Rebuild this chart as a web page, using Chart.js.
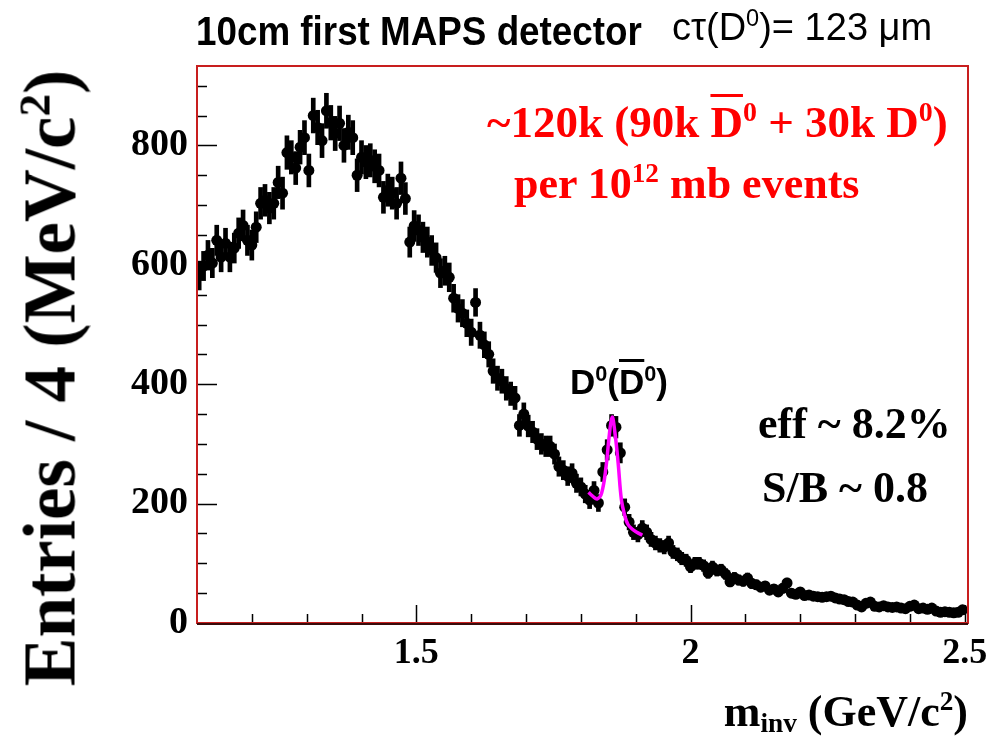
<!DOCTYPE html>
<html>
<head>
<meta charset="utf-8">
<script src="https://cdn.jsdelivr.net/npm/chart.js@4.4.1/dist/chart.umd.min.js"></script>
<style>
  body { margin: 0; background: #fff; }
  #wrap { position: relative; width: 988px; height: 743px; }
  .lbl { position: absolute; white-space: nowrap; line-height: 1; }
  .serif { font-family: "Liberation Serif", "DejaVu Serif", serif; font-weight: bold; }
  .sans { font-family: "Liberation Sans", Arial, sans-serif; }
  sup, sub { font-size: 0.62em; line-height: 0; }
  sub { vertical-align: -0.22em; }
  .ov { text-decoration: overline; text-decoration-thickness: 3px; }
</style>
</head>
<body>
<div id="wrap">
  <canvas id="massChart" width="988" height="743"></canvas>

  <div class="lbl sans" style="left:196px; top:11px; font-size:40px; font-weight:bold; transform:scaleX(0.92); transform-origin:left top;">10cm first MAPS detector</div>
  <div class="lbl sans" style="left:672px; top:8px; font-size:38px;">cτ(D<sup>0</sup>)= 123 μm</div>

  <div class="lbl serif" style="left:487px; top:100px; font-size:45px; color:#ff0000;">~120k (90k <span class="ov">D</span><sup>0</sup> + 30k D<sup>0</sup>)</div>
  <div class="lbl serif" style="left:514px; top:162px; font-size:44px; color:#ff0000;">per 10<sup>12</sup> mb events</div>

  <div class="lbl sans" style="left:570px; top:364px; font-size:35px; font-weight:bold;">D<sup>0</sup>(<span class="ov">D</span><sup>0</sup>)</div>
  <div class="lbl serif" style="left:758px; top:402px; font-size:44px;">eff ~ 8.2%</div>
  <div class="lbl serif" style="left:762px; top:466px; font-size:44px;">S/B ~ 0.8</div>

  <div class="lbl serif" style="right:20px; top:690px; font-size:44px;">m<sub>inv</sub> (GeV/c<sup>2</sup>)</div>
  <div class="lbl serif" style="left:50px; top:378px; font-size:73px; transform:translate(-50%,-50%) rotate(-90deg);">Entries / 4 (MeV/c<sup>2</sup>)</div>
</div>

<script>
// invariant mass histogram, bin width 8 MeV starting at 1.100 GeV
const binStart = 1.1;
const binWidth = 0.008;
const counts = [
  582, 598, 616, 603, 641, 613, 636, 613, 628, 653,
  666, 641, 633, 663, 703, 708, 695, 703, 738, 720,
  788, 780, 762, 797, 813, 758, 850, 830, 808, 858,
  838, 820, 837, 800, 822, 813, 750, 780, 772, 775,
  765, 758, 713, 725, 720, 703, 745, 711, 638, 665,
  658, 646, 638, 624, 612, 586, 590, 579, 544, 527,
  519, 502, 487, 537, 482, 466, 450, 422, 410, 405,
  393, 384, 377, 331, 350, 330, 320, 308, 300, 296,
  296, 283, 262, 256, 246, 251, 234, 228, 216, 206,
  222, 201, 253, 290, 331, 328, 285, 194, 169, 152,
  148, 159, 152, 140, 134, 130, 127, 134, 119, 115,
  108, 105, 94, 100, 100, 96, 84, 94, 88, 89,
  82, 69, 76, 72, 70, 75, 66, 64, 60, 62,
  55, 57, 52, 58, 67, 50, 48, 52, 46, 47,
  45, 44, 43, 44, 45, 42, 40, 39, 36, 35,
  30, 27, 33, 35, 28, 27, 29, 27, 26, 27,
  25, 24, 28, 30, 24, 25, 23, 25, 20, 18,
  19, 18, 17, 18, 22
];

// gaussian + background fit drawn around the D0 peak
const fitMass = [1.814, 1.822, 1.830, 1.838, 1.846, 1.852, 1.857, 1.862, 1.868, 1.874, 1.880, 1.886, 1.894, 1.902, 1.912];
const fitValue = [219, 212, 208, 218, 262, 316, 345, 320, 268, 206, 180, 165, 157, 152, 147];

const yTicks = [0, 200, 400, 600, 800];
const xTicks = [1.5, 2, 2.5];

const binCenters = counts.map((_, i) => binStart + binWidth * (i + 0.5));
const points = counts.map((c, i) => ({ x: binCenters[i], y: c }));
// poisson error bars
const errorBars = counts.map((c, i) => ({ x: binCenters[i], y: [c - Math.sqrt(c), c + Math.sqrt(c)] }));
const fitPoints = fitMass.map((m, i) => ({ x: m, y: fitValue[i] }));

const serifFamily = '"Liberation Serif", "DejaVu Serif", serif';

// ROOT-style frame with ticks on the inside
const rootFrame = {
  id: 'rootFrame',
  afterDatasetsDraw(chart) {
    const { ctx, chartArea: area, scales } = chart;
    ctx.save();
    ctx.strokeStyle = '#000';
    ctx.lineWidth = 1.5;
    ctx.beginPath();
    for (let v = 0; v <= 900; v += 50) {
      const y = Math.round(scales.y.getPixelForValue(v)) + 0.5;
      const len = v % 200 === 0 ? 20 : 10;
      ctx.moveTo(area.left, y);
      ctx.lineTo(area.left + len, y);
    }
    for (let v = 1.2; v <= 2.5001; v += 0.1) {
      const x = Math.round(scales.x.getPixelForValue(v)) + 0.5;
      const major = Math.abs(v * 2 - Math.round(v * 2)) < 1e-6;
      ctx.moveTo(x, area.bottom);
      ctx.lineTo(x, area.bottom - (major ? 18 : 9));
    }
    ctx.stroke();

    ctx.lineWidth = 2;
    ctx.strokeStyle = '#c81e1e';
    ctx.strokeRect(area.left, area.top, area.right - area.left, area.bottom - area.top);
    ctx.strokeStyle = '#3a0c0c';
    ctx.beginPath();
    ctx.moveTo(area.left, area.bottom + 1);
    ctx.lineTo(area.right, area.bottom + 1);
    ctx.stroke();
    ctx.restore();
  }
};

new Chart(document.getElementById('massChart'), {
  type: 'scatter',
  data: {
    datasets: [
      {
        type: 'line',
        data: fitPoints,
        borderColor: '#ff00ff',
        borderWidth: 3.5,
        pointRadius: 0,
        tension: 0.4,
        fill: false,
        order: 0
      },
      {
        type: 'scatter',
        data: points,
        backgroundColor: '#000',
        borderColor: '#000',
        pointRadius: 5.5,
        pointBorderWidth: 0,
        order: 1
      },
      {
        type: 'bar',
        data: errorBars,
        backgroundColor: '#000',
        barThickness: 4,
        grouped: false,
        order: 2
      }
    ]
  },
  options: {
    responsive: false,
    animation: false,
    layout: { padding: { left: 0, top: 66, right: 20, bottom: 0 } },
    plugins: { legend: { display: false }, tooltip: { enabled: false } },
    scales: {
      x: {
        type: 'linear',
        min: 1.1,
        max: 2.506,
        offset: false,
        grid: { display: false, drawTicks: false, offset: false },
        border: { display: false },
        afterFit: (scale) => {
          scale.height = 120;
          scale.paddingLeft = 0;
          scale.paddingRight = 0;
        },
        afterBuildTicks: (scale) => { scale.ticks = xTicks.map(v => ({ value: v })); },
        ticks: {
          font: { family: serifFamily, size: 36, weight: 'bold' },
          color: '#000',
          padding: 9,
          maxRotation: 0,
          callback: (v) => String(+v.toFixed(2))
        }
      },
      y: {
        min: 0,
        max: 933,
        grid: { display: false, drawTicks: false },
        border: { display: false },
        afterFit: (scale) => {
          scale.width = 197;
          scale.paddingTop = 0;
          scale.paddingBottom = 0;
        },
        afterBuildTicks: (scale) => { scale.ticks = yTicks.map(v => ({ value: v })); },
        ticks: { font: { family: serifFamily, size: 38, weight: 'bold' }, color: '#000', padding: 9 }
      }
    }
  },
  plugins: [rootFrame]
});
</script>
</body>
</html>
